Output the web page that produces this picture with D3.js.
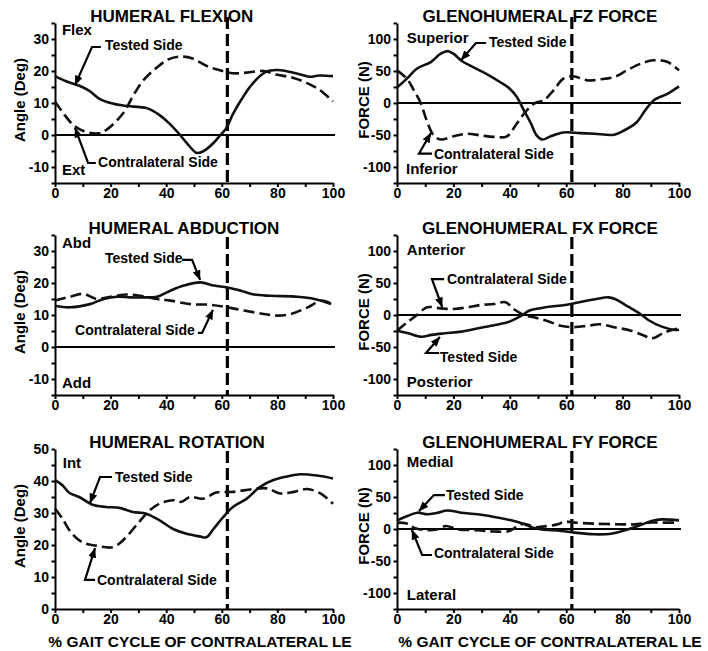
<!DOCTYPE html>
<html>
<head>
<meta charset="utf-8">
<script src="https://cdn.jsdelivr.net/npm/d3@7"></script>
<style>
	body { margin: 0; background: #fff; }
	text { font-family: "Liberation Sans", Arial, sans-serif; font-weight: bold; fill: #000; }
</style>
</head>
<body>
<svg id="chart"></svg>
<script>
const width = 708;
const height = 651;

// tick labels
const xTicks = [0, 20, 40, 60, 80, 100];
const angleTicks = [-10, 0, 10, 20, 30];
const rotationTicks = [0, 10, 20, 30, 40, 50];
const forceTicks = [-100, -50, 0, 50, 100];
const toeOff = 62; // dashed vertical line, % gait cycle

// [% gait cycle, value]
const flexionTested = [[0, 18.4], [4, 16.8], [9, 15.3], [12.5, 13.7], [16, 11.3], [20, 10], [24.5, 9.2], [30.5, 8.7], [33, 8.4], [37.5, 6.3], [41, 3.7], [45, 0], [47.5, -2.6], [51, -5.6], [53.5, -5], [57, -2.5], [59, -0.5], [61.5, 2], [64, 6.5], [67, 11], [71, 16], [76, 19.8], [80, 20.3], [83, 20], [88, 19], [91.5, 18.2], [95, 18.6], [100, 18.4]];
const flexionContra = [[0, 10.5], [3, 6.8], [6.5, 3.2], [10, 1.3], [15.5, 0.5], [18.5, 1.6], [24.5, 6.8], [28, 12.1], [31.5, 16.8], [36.5, 21], [41, 23.7], [45.5, 24.5], [49.5, 23.9], [54.5, 21.6], [59, 20.3], [64, 19.3], [69, 19.5], [75, 20], [79.5, 18.9], [85.5, 17.9], [90.5, 16.3], [95, 14.2], [100, 10.5]];

const fzTested = [[0, 24], [3.5, 38], [7, 53.6], [12, 64], [15.5, 77], [18, 81], [20, 77], [23, 65.6], [27, 56], [32, 44.8], [36.5, 32.8], [40, 22.4], [42.5, 9.4], [45, -11.5], [47.5, -32], [49.5, -50.5], [51.5, -57], [54.5, -52], [59, -46], [65, -47], [70, -48], [77, -49.5], [80.5, -43], [85, -30], [88, -11.5], [91, 4], [96, 14.6], [100, 26]];
const fzContra = [[0, 51], [3.5, 38], [6, 19.8], [8.5, -1], [10.5, -27], [13, -50.5], [15.5, -57], [20, -52], [25, -48], [29.5, -50.5], [34.5, -53], [39, -52], [42.5, -32], [46, -11.5], [49, 0], [52, 4], [55.5, 19.8], [59, 38], [62.5, 41.7], [67.5, 35.4], [72, 37], [77, 40.6], [81.5, 51], [86.5, 61.5], [91, 66.7], [96, 64], [100, 51]];

const abdTested = [[0, 12.9], [5.4, 12.4], [12.6, 13.4], [17.5, 15], [22.3, 15.7], [27, 15.5], [32, 15.5], [36.7, 15.7], [41.5, 17.6], [46.3, 19.2], [52.3, 20.2], [57.2, 19.2], [62, 18.6], [66.8, 17.6], [71.6, 16.4], [77.6, 16], [87.2, 15.7], [93.3, 15], [99.3, 13.4]];
const abdContra = [[0, 14.5], [5.4, 15.7], [10.2, 16.6], [15, 15], [19.9, 15.7], [25.9, 16.4], [30.7, 16], [36.7, 15], [41.5, 14.5], [48.7, 13.4], [55.9, 13.2], [62, 12.4], [68, 11.4], [75.2, 10.3], [80, 9.8], [84.8, 10.3], [90.9, 12.4], [95.7, 14.5], [99.3, 13.6]];

const fxTested = [[0, -24.5], [4, -28.6], [8.7, -34], [12.3, -31], [17, -28.6], [22.9, -26], [28.8, -20.8], [34.8, -15.6], [39.5, -11], [42.5, -5], [44.5, 0], [47, 7], [50, 10], [53.7, 13], [59.6, 15.6], [65.5, 20.8], [70.2, 24.5], [75, 27.6], [77.3, 25], [82, 13], [86.8, 0], [89.1, -7.8], [93.9, -18.2], [98.6, -23.4], [100, -23]];
const fxContra = [[0, -24.5], [3.6, -11.5], [7.1, 0], [10.7, 12], [15.4, 10.4], [20, 9.4], [25, 12], [29.6, 15.6], [34.3, 17.2], [38.5, 20], [41.5, 9], [45, 0], [48.5, -3.6], [53, -9], [58, -16.7], [62.7, -19], [67.5, -17], [72, -14.5], [77, -19], [83, -24.5], [87.5, -32], [90.5, -36.5], [95, -27], [100, -21]];

const rotTested = [[0, 40.3], [2.7, 38.7], [5, 36.4], [8.7, 35], [13.5, 32.6], [18.3, 31.9], [23.2, 31.6], [28, 30.3], [32.8, 29.8], [37.6, 27.7], [42.5, 25], [47.3, 23.5], [52, 22.7], [54.5, 22.4], [57, 25], [60.5, 28.7], [64, 31.9], [69, 34.5], [73.8, 38.2], [78.6, 40.3], [83.5, 41.4], [88.3, 42.1], [94.3, 41.7], [100, 40.8]];
const rotContra = [[0, 31.4], [2.7, 28.2], [5.7, 24], [9.9, 20.8], [14.7, 19.8], [20.7, 19.3], [24.4, 21.4], [29.2, 26.1], [34, 30.8], [37.6, 32.9], [42.5, 34], [45.5, 33.5], [48.5, 35], [53.3, 34.5], [58, 36.4], [64, 36.6], [71.4, 37.5], [76.2, 37.7], [81, 36.1], [85.9, 36.6], [90.7, 37.5], [95.5, 36.1], [100, 32.9]];

const fyTested = [[0, 13.5], [3.7, 20.3], [7.2, 25.5], [10.8, 23], [14.4, 25.5], [17.9, 29], [22.7, 25.5], [28.6, 23], [34.5, 18.8], [40.5, 13.5], [45.2, 7.3], [48.8, 1], [52.3, -1], [58.2, -3], [63, -5.7], [70, -8.3], [76, -7.3], [80.8, -2], [85.5, 4.7], [90.3, 12.5], [93.8, 15], [100, 13.5]];
const fyContra = [[0, 10], [3.7, 8.3], [6, 2], [10.8, -2], [14.4, -0.5], [17.3, 4.7], [21.5, -0.5], [28.6, -2], [34.5, -4], [39.9, -3], [42.8, 4.7], [45.2, 8.3], [48.8, 3], [53.5, 4.7], [57, 7.3], [59.4, 11.5], [63, 10], [70, 8.3], [79.6, 7.3], [84.3, 7.3], [89, 10], [93.8, 10], [100, 10]];

// layout
const cols = [{ left: 55, right: 333, yLabelX: 25 }, { left: 397, right: 679, yLabelX: 369 }];
const rows = [{ top: 23, bottom: 183 }, { top: 235, bottom: 395 }, { top: 449, bottom: 609 }];

const panels = [
	{
		title: "HUMERAL FLEXION", titleAt: 42, col: 0, row: 0, yLabel: "Angle (Deg)",
		domain: [-15, 35], ticks: angleTicks, step: 5, zero: true,
		tested: flexionTested, contra: flexionContra,
		sides: [{ text: "Flex", at: [2.5, 31.25] }, { text: "Ext", at: [2.5, -12.5] }],
		notes: [
			{ text: "Tested Side", at: [18, 26.6], path: [[16.5, 27.5], [13.3, 27.5], [7.2, 15.6]] },
			{ text: "Contralateral Side", at: [15.5, -10], path: [[14.7, -8.75], [11.9, -8.75], [7.2, 2.2]] },
		],
	},
	{
		title: "GLENOHUMERAL FZ FORCE", titleAt: 50.7, col: 1, row: 0, yLabel: "FORCE (N)",
		domain: [-125, 125], ticks: forceTicks, step: 25, zero: true,
		tested: fzTested, contra: fzContra,
		sides: [{ text: "Superior", at: [3.5, 94] }, { text: "Inferior", at: [3.2, -111] }],
		notes: [
			{ text: "Tested Side", at: [32.6, 87.5], path: [[31.6, 93.75], [28, 93.75], [22.7, 67]] },
			{ text: "Contralateral Side", at: [13.1, -87], path: [[12.4, -79], [7.8, -79], [12, -47]] },
		],
	},
	{
		title: "HUMERAL ABDUCTION", titleAt: 46.4, col: 0, row: 1, yLabel: "Angle (Deg)",
		domain: [-15, 35], ticks: angleTicks, step: 5, zero: true,
		tested: abdTested, contra: abdContra,
		sides: [{ text: "Abd", at: [2.5, 31] }, { text: "Add", at: [2.5, -12.8] }],
		notes: [
			{ text: "Tested Side", at: [18, 26.25], path: [[45.7, 27.2], [49.3, 27.2], [52.2, 21]] },
			{ text: "Contralateral Side", at: [7.2, 3.75], path: [[51.4, 4.4], [52.9, 4.4], [56.8, 11.6]] },
		],
	},
	{
		title: "GLENOHUMERAL FX FORCE", titleAt: 50.7, col: 1, row: 1, yLabel: "FORCE (N)",
		domain: [-125, 125], ticks: forceTicks, step: 25, zero: true,
		tested: fxTested, contra: fxContra,
		sides: [{ text: "Anterior", at: [3.5, 94] }, { text: "Posterior", at: [3.5, -112] }],
		notes: [
			{ text: "Contralateral Side", at: [17.7, 48.4], path: [[16.7, 56], [12.4, 56], [16, 12.5]] },
			{ text: "Tested Side", at: [15.2, -73.4], path: [[14.9, -59.4], [10.3, -59.4], [15.2, -34.4]] },
		],
	},
	{
		title: "HUMERAL ROTATION", titleAt: 43.9, col: 0, row: 2, yLabel: "Angle (Deg)",
		domain: [0, 50], ticks: rotationTicks, step: 5, zero: false,
		tested: rotTested, contra: rotContra,
		sides: [{ text: "Int", at: [2.8, 44] }],
		notes: [
			{ text: "Tested Side", at: [21.6, 39.7], path: [[20.5, 41.25], [16.2, 41.25], [12.6, 33.1]] },
			{ text: "Contralateral Side", at: [15.1, 7.5], path: [[14.4, 9.1], [10.8, 9.1], [14.4, 19]] },
		],
	},
	{
		title: "GLENOHUMERAL FY FORCE", titleAt: 50.7, col: 1, row: 2, yLabel: "FORCE (N)",
		domain: [-125, 125], ticks: forceTicks, step: 25, zero: true,
		tested: fyTested, contra: fyContra,
		sides: [{ text: "Medial", at: [3.5, 97] }, { text: "Lateral", at: [3.5, -111] }],
		notes: [
			{ text: "Tested Side", at: [17.4, 45.3], path: [[17, 53], [13.1, 53], [7.8, 28]] },
			{ text: "Contralateral Side", at: [13.1, -45], path: [[12.4, -40.6], [8.9, -40.6], [5.3, -1.6]] },
		],
	},
];

const svg = d3.select("#chart").attr("width", width).attr("height", height);

svg.append("defs")
	.append("marker")
	.attr("id", "arrow")
	.attr("markerUnits", "userSpaceOnUse")
	.attr("viewBox", "0 0 10 8")
	.attr("markerWidth", 10)
	.attr("markerHeight", 8)
	.attr("refX", 9.5)
	.attr("refY", 4)
	.attr("orient", "auto")
	.append("path")
	.attr("d", "M0,0 L10,4 L0,8 Z")
	.attr("fill", "#000");

function drawPanel(p) {
	const c = cols[p.col];
	const r = rows[p.row];
	const x = d3.scaleLinear().domain([0, 100]).range([c.left, c.right]);
	const y = d3.scaleLinear().domain(p.domain).range([r.bottom, r.top]);
	const g = svg.append("g");

	if (p.zero) {
		g.append("line")
			.attr("x1", x(0)).attr("x2", x(100) + 2)
			.attr("y1", y(0)).attr("y2", y(0))
			.attr("stroke", "#000")
			.attr("stroke-width", 2);
	}

	// contralateral toe-off
	g.append("line")
		.attr("x1", x(toeOff)).attr("x2", x(toeOff))
		.attr("y1", p.row === 0 ? r.top - 6 : r.top + 2).attr("y2", r.bottom)
		.attr("stroke", "#000")
		.attr("stroke-width", 3.2)
		.attr("stroke-dasharray", "12,5");

	const xAxis = d3.axisBottom(x)
		.tickValues(d3.range(0, 101, 10))
		.tickFormat((d) => (xTicks.includes(d) ? d : ""))
		.tickSize(4)
		.tickSizeOuter(0)
		.tickPadding(1);
	const yAxis = d3.axisLeft(y)
		.tickValues(d3.range(p.domain[0], p.domain[1] + 0.1, p.step))
		.tickFormat((d) => (p.ticks.includes(d) ? String(d) : ""))
		.tickSize(3.5)
		.tickSizeOuter(0)
		.tickPadding(2.5);

	[g.append("g").attr("transform", `translate(0,${r.bottom})`).call(xAxis),
	 g.append("g").attr("transform", `translate(${c.left},0)`).call(yAxis)].forEach((a) => {
		a.attr("font-family", null).attr("font-size", 14);
		a.selectAll("path, line").attr("stroke", "#000").attr("stroke-width", 2);
		a.selectAll("text").attr("fill", "#000");
	});

	const line = d3.line()
		.x((d) => x(d[0]))
		.y((d) => y(d[1]))
		.curve(d3.curveCatmullRom.alpha(0.5));

	g.append("path")
		.datum(p.tested)
		.attr("d", line)
		.attr("fill", "none")
		.attr("stroke", "#111")
		.attr("stroke-width", 2.6)
		.attr("stroke-linejoin", "round");

	g.append("path")
		.datum(p.contra)
		.attr("d", line)
		.attr("fill", "none")
		.attr("stroke", "#111")
		.attr("stroke-width", 2.6)
		.attr("stroke-dasharray", "11,5");

	g.append("text")
		.attr("x", x(p.titleAt))
		.attr("y", r.top - 1)
		.attr("text-anchor", "middle")
		.attr("font-size", 17)
		.text(p.title);

	g.append("text")
		.attr("transform", `translate(${c.yLabelX},${(r.top + r.bottom) / 2 - 3}) rotate(-90)`)
		.attr("text-anchor", "middle")
		.attr("font-size", 15)
		.text(p.yLabel);

	p.sides.forEach((s) => {
		g.append("text")
			.attr("x", x(s.at[0]))
			.attr("y", y(s.at[1]))
			.attr("font-size", 15)
			.text(s.text);
	});

	p.notes.forEach((n) => {
		g.append("text")
			.attr("x", x(n.at[0]))
			.attr("y", y(n.at[1]))
			.attr("font-size", 14)
			.text(n.text);
		g.append("path")
			.attr("d", d3.line().x((d) => x(d[0])).y((d) => y(d[1]))(n.path))
			.attr("fill", "none")
			.attr("stroke", "#000")
			.attr("stroke-width", 2.2)
			.attr("marker-end", "url(#arrow)");
	});
}

panels.forEach(drawPanel);

// x axis titles under the bottom row
cols.forEach((c) => {
	svg.append("text")
		.attr("x", (c.left + c.right) / 2 + (c.left < 100 ? 6 : 12))
		.attr("y", 647)
		.attr("text-anchor", "middle")
		.attr("font-size", 15.5)
		.text("% GAIT CYCLE OF CONTRALATERAL LE");
});
</script>
</body>
</html>
